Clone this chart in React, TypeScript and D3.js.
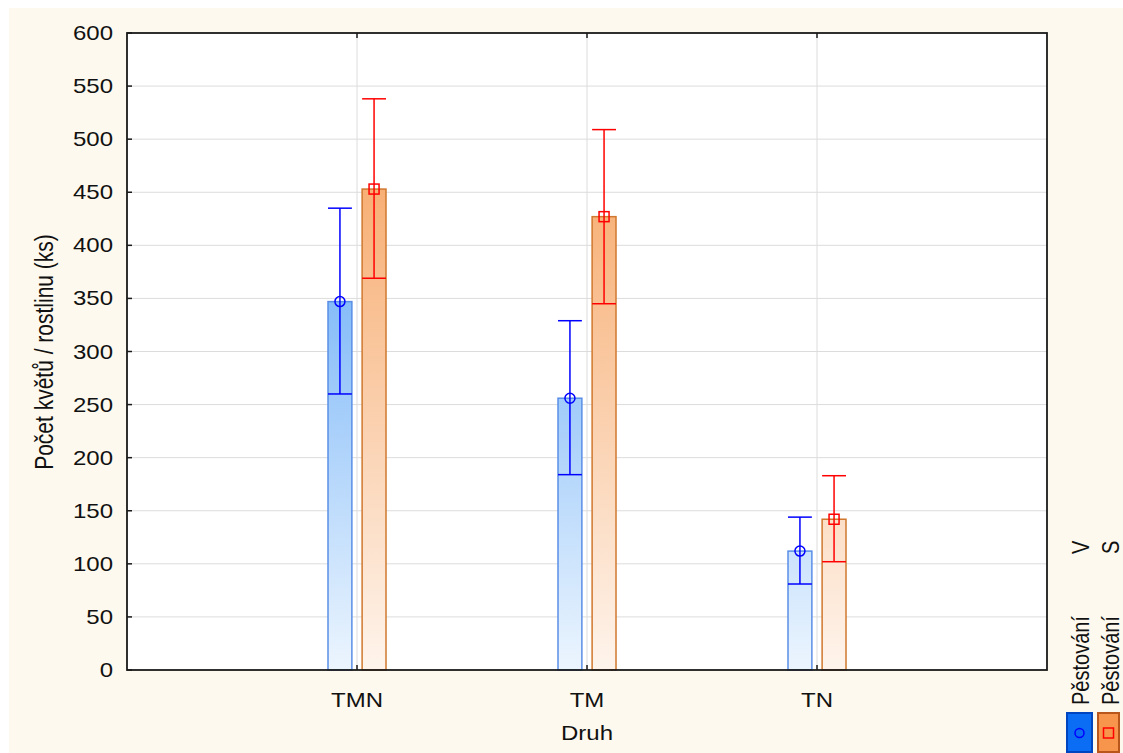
import React, { useEffect, useRef } from 'react';
import * as d3 from "d3";

// data
const categories = ["TMN", "TM", "TN"];
const groups = ["V", "S"];
const meanV = [347, 256, 112];
const lowV = [260, 184, 81];
const highV = [435, 329, 144];
const meanS = [453, 427, 142];
const lowS = [369, 345, 102];
const highS = [538, 509, 183];
const yTicks = [0, 50, 100, 150, 200, 250, 300, 350, 400, 450, 500, 550, 600];

const W = 1123;
const H = 753;
const font = "'Liberation Sans', Arial, sans-serif";

export default function App() {
    const ref = useRef<SVGSVGElement>(null);

    useEffect(() => {
        const svg = d3.select(ref.current);
        svg.selectAll("*").remove();

        const left = 127, right = 1047, top = 33, bottom = 670;

        const x = d3.scalePoint<string>().domain(categories).range([left, right]).padding(1);
        const xSub = d3.scaleBand<string>().domain(groups).range([-29, 29]).paddingInner(0.3);
        const y = d3.scaleLinear().domain([0, 600]).range([bottom, top]);

        // background
        svg.append("rect").attr("x", 9).attr("y", 8).attr("width", W - 9).attr("height", H - 8)
            .attr("fill", "#fdf9ee");
        svg.append("rect").attr("x", left).attr("y", top).attr("width", right - left).attr("height", bottom - top)
            .attr("fill", "#ffffff");

        // gradients across the whole plot height
        const defs = svg.append("defs");
        const grads = [
            { id: "gV", top: "#3b93f5", bottom: "#ecf5fe" },
            { id: "gS", top: "#f5994f", bottom: "#fef4ec" },
        ];
        grads.forEach(g => {
            defs.append("linearGradient")
                .attr("id", g.id)
                .attr("gradientUnits", "userSpaceOnUse")
                .attr("x1", 0).attr("y1", y(600))
                .attr("x2", 0).attr("y2", y(0))
                .selectAll("stop")
                .data([{ o: "0%", c: g.top }, { o: "100%", c: g.bottom }])
                .enter().append("stop")
                .attr("offset", d => d.o)
                .attr("stop-color", d => d.c);
        });

        // grid
        const grid = svg.append("g").attr("stroke", "#dcdcdc").attr("stroke-width", 1);
        grid.selectAll("line.h").data(yTicks.slice(1, -1)).enter().append("line")
            .attr("x1", left).attr("x2", right)
            .attr("y1", d => y(d)).attr("y2", d => y(d));
        grid.selectAll("line.v").data(categories).enter().append("line")
            .attr("x1", d => x(d)!).attr("x2", d => x(d)!)
            .attr("y1", top).attr("y2", bottom);

        const series = [
            { key: "V", mean: meanV, low: lowV, high: highV, fill: "url(#gV)", border: "#5a8ee6", err: "#0000ff", marker: "circle" },
            { key: "S", mean: meanS, low: lowS, high: highS, fill: "url(#gS)", border: "#d0782f", err: "#ff0000", marker: "square" },
        ];

        const bw = xSub.bandwidth();
        series.forEach(s => {
            const g = svg.append("g");
            const cx = (i: number) => x(categories[i])! + xSub(s.key)! + bw / 2;
            g.selectAll("rect").data(s.mean).enter().append("rect")
                .attr("x", (d, i) => cx(i) - bw / 2)
                .attr("y", d => y(d))
                .attr("width", bw)
                .attr("height", d => y(0) - y(d))
                .attr("fill", s.fill)
                .attr("stroke", s.border)
                .attr("stroke-width", 1.5);

            // error bars
            s.mean.forEach((m, i) => {
                const c = cx(i);
                g.append("line").attr("x1", c).attr("x2", c)
                    .attr("y1", y(s.low[i])).attr("y2", y(s.high[i]))
                    .attr("stroke", s.err).attr("stroke-width", 1.5);
                [s.low[i], s.high[i]].forEach(v => {
                    g.append("line").attr("x1", c - bw / 2).attr("x2", c + bw / 2)
                        .attr("y1", y(v)).attr("y2", y(v))
                        .attr("stroke", s.err).attr("stroke-width", 1.5);
                });
                if (s.marker === "circle") {
                    g.append("circle").attr("cx", c).attr("cy", y(m)).attr("r", 5)
                        .attr("fill", "none").attr("stroke", s.err).attr("stroke-width", 1.5);
                } else {
                    g.append("rect").attr("x", c - 5).attr("y", y(m) - 5).attr("width", 10).attr("height", 10)
                        .attr("fill", "none").attr("stroke", s.err).attr("stroke-width", 1.5);
                }
            });
        });

        // frame and inward ticks
        svg.append("rect").attr("x", left).attr("y", top).attr("width", right - left).attr("height", bottom - top)
            .attr("fill", "none").attr("stroke", "#1a1a1a").attr("stroke-width", 1.8);
        const ticks = svg.append("g").attr("stroke", "#1a1a1a").attr("stroke-width", 1.5);
        ticks.selectAll("line.yt").data(yTicks).enter().append("line")
            .attr("x1", left).attr("x2", left + 5)
            .attr("y1", d => y(d)).attr("y2", d => y(d));
        ticks.selectAll("line.xb").data(categories).enter().append("line")
            .attr("x1", d => x(d)!).attr("x2", d => x(d)!)
            .attr("y1", bottom).attr("y2", bottom - 5);
        ticks.selectAll("line.xt").data(categories).enter().append("line")
            .attr("x1", d => x(d)!).attr("x2", d => x(d)!)
            .attr("y1", top).attr("y2", top + 5);

        // tick labels
        svg.append("g").selectAll("text").data(yTicks).enter().append("text")
            .attr("transform", d => `translate(113,${y(d) + 7}) scale(1.2,1)`)
            .attr("text-anchor", "end")
            .attr("font-family", font).attr("font-size", 20).attr("fill", "#111")
            .text(d => d);
        svg.append("g").selectAll("text").data(categories).enter().append("text")
            .attr("transform", d => `translate(${x(d)},707) scale(1.2,1)`)
            .attr("text-anchor", "middle")
            .attr("font-family", font).attr("font-size", 20).attr("fill", "#111")
            .text(d => d);

        // axis titles
        svg.append("text")
            .attr("transform", `translate(587,740) scale(1.2,1)`)
            .attr("text-anchor", "middle")
            .attr("font-family", font).attr("font-size", 20).attr("fill", "#111")
            .text("Druh");
        svg.append("text")
            .attr("transform", `translate(53,352) scale(1.2,1) rotate(-90)`)
            .attr("text-anchor", "middle")
            .attr("font-family", font).attr("font-size", 21).attr("fill", "#111")
            .text("Počet květů / rostlinu (ks)");

        // legend
        const legend = [
            { key: "V", bx: 1067, bw: 25, fill: "#0b6cf4", stroke: "#0045c0", mk: "#0000ff", tx: 1089, marker: "circle" },
            { key: "S", bx: 1098, bw: 21, fill: "#f7954c", stroke: "#b8561c", mk: "#ff0000", tx: 1119, marker: "square" },
        ];
        legend.forEach(l => {
            svg.append("rect").attr("x", l.bx).attr("y", 713).attr("width", l.bw).attr("height", 39)
                .attr("fill", l.fill).attr("stroke", l.stroke).attr("stroke-width", 2);
            const c = l.bx + l.bw / 2;
            if (l.marker === "circle") {
                svg.append("circle").attr("cx", c).attr("cy", 733).attr("r", 4.5)
                    .attr("fill", "none").attr("stroke", l.mk).attr("stroke-width", 1.5);
            } else {
                svg.append("rect").attr("x", c - 5).attr("y", 728).attr("width", 10).attr("height", 10)
                    .attr("fill", "none").attr("stroke", l.mk).attr("stroke-width", 1.5);
            }
            svg.append("text")
                .attr("transform", `translate(${l.tx},705) scale(1.15,1) rotate(-90)`)
                .attr("font-family", font).attr("font-size", 20).attr("fill", "#111")
                .text("Pěstování");
            svg.append("text")
                .attr("transform", `translate(${l.tx},554) scale(1.15,1) rotate(-90)`)
                .attr("font-family", font).attr("font-size", 20).attr("fill", "#111")
                .text(l.key);
        });
    }, []);

    return (
        <svg ref={ref} width={W} height={H}
            style={{ position: "absolute", left: 0, top: 0, display: "block" }}></svg>
    );
}
